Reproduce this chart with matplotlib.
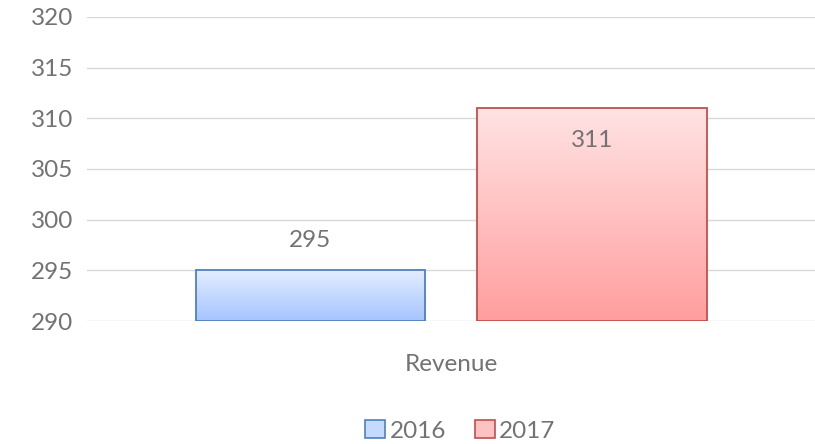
import numpy as np
import matplotlib.pyplot as plt
from matplotlib.colors import LinearSegmentedColormap
from matplotlib.patches import Rectangle

plt.rcParams['font.family'] = ['Lato', 'DejaVu Sans']

category = "Revenue"
years = ["2016", "2017"]
values = [295, 311]
y_ticks = [290, 295, 300, 305, 310, 315, 320]

tops = ["#E3EDFF", "#FFE3E3"]
bottoms = ["#A5C4FF", "#FF9E9E"]
mids = ["#C6D9FF", "#FFC2C2"]
edges = ["#4F81BD", "#C0504D"]
text_col = "#737373"

fig = plt.figure(figsize=(8.15, 4.44), dpi=100)
ax = fig.add_axes([0.107, 0.277, 0.893, 0.685])

width = 0.315
offsets = [-0.5 * width - 0.036, 0.5 * width + 0.036]
for i in range(len(values)):
    x0 = 0.5 + offsets[i] - width / 2
    cmap = LinearSegmentedColormap.from_list("g%d" % i, [bottoms[i], tops[i]])
    grad = np.linspace(0, 1, 256).reshape(-1, 1)
    im = ax.imshow(grad, cmap=cmap, origin="lower", aspect="auto",
                   extent=[x0, x0 + width, 290, values[i]], zorder=2)
    rect = Rectangle((x0, 290), width, values[i] - 290, facecolor="none",
                     edgecolor=edges[i], linewidth=1.3, zorder=3)
    ax.add_patch(rect)
    im.set_clip_path(rect)

ax.text(0.5 + offsets[0], values[0] + 2.9, str(values[0]), ha="center", va="center",
        fontsize=17.5, color=text_col)
ax.text(0.5 + offsets[1], values[1] - 3.2, str(values[1]), ha="center", va="center",
        fontsize=17.5, color=text_col)

ax.set_xlim(0, 1)
ax.set_ylim(290, 320)
ax.set_yticks(y_ticks)
ax.set_yticklabels([str(t) for t in y_ticks], fontsize=17.5, color=text_col)
ax.set_xticks([0.5])
ax.set_xticklabels([category], fontsize=17.5, color=text_col)
ax.tick_params(length=0, pad=10)
ax.tick_params(axis="x", pad=24)
ax.grid(axis="y", color="#D9D9D9", linewidth=1)
ax.set_axisbelow(True)
for s in ax.spines.values():
    s.set_visible(False)

handles = [Rectangle((0, 0), 1, 1, facecolor=mids[i], edgecolor=edges[i], linewidth=1.2)
           for i in range(2)]
fig.legend(handles, years, loc="center", bbox_to_anchor=(0.565, 0.03), ncol=2,
           frameon=False, fontsize=17.5, handlelength=0.8, handleheight=0.8,
           handletextpad=0.2, columnspacing=1.2, labelcolor=text_col)

fig.savefig("out.png", dpi=100)
